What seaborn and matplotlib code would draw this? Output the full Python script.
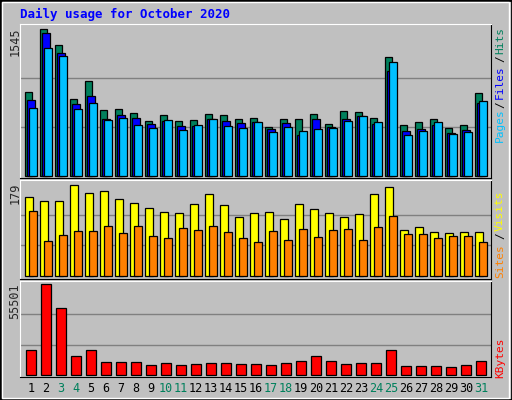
import numpy as np
import matplotlib
matplotlib.use("Agg")
import matplotlib.pyplot as plt
import seaborn as sns
from matplotlib.patches import Rectangle

days = list(range(1, 32))
hits = [883,1545,1377,809,998,694,704,662,578,641,578,589,652,641,599,610,515,599,599,652,547,683,673,610,1251,536,568,599,505,536,872]
files = [799,1503,1289,757,841,599,641,610,547,578,526,526,599,578,557,568,494,557,431,599,515,599,631,547,1104,473,494,536,452,483,767]
pages = [711,1342,1261,704,767,589,610,536,505,589,483,536,599,526,505,568,462,515,473,494,505,578,631,568,1198,431,473,568,441,462,788]
visits = [153,145,145,178,161,165,149,143,132,124,122,141,159,138,114,122,124,110,141,130,122,114,120,159,173,89,95,85,83,85,85]
sites = [126,69,79,87,87,97,83,97,77,73,93,89,97,85,73,66,87,71,91,75,89,91,71,95,116,81,81,73,77,77,67]
kbytes = [15395,55501,40715,11748,15395,7900,7900,7900,6077,7292,6077,6684,7292,7292,6684,6684,6077,7292,8508,11748,8508,6684,7292,7292,15395,5469,5469,5469,4861,6077,8508]
weekend = [3,4,10,11,17,18,24,25,31]

sns.set_style("white")
plt.rcParams['font.family'] = ['DejaVu Sans Mono']
BG = "#c0c0c0"
fig = plt.figure(figsize=(5.12, 4.0), dpi=100, facecolor=BG)
fig.patches.append(Rectangle((0, 0), 1, 1, transform=fig.transFigure, fill=False,
                             edgecolor="black", lw=2))
fig.patches.append(Rectangle((0.004, 0.006), 0.99, 0.99, transform=fig.transFigure, fill=False,
                             edgecolor="white", lw=1))

W, H = 512, 400
def rect(x0, y0, x1, y1):
    return [x0 / W, 1 - y1 / H, (x1 - x0) / W, (y1 - y0) / H]

x = np.arange(31)
ek = dict(edgecolor="black", linewidth=0.9)

def style(ax, ylim, grids, ymax, ypx):
    ax.set_facecolor(BG)
    ax.set_xlim(-0.73, 30.67)
    ax.set_ylim(*ylim)
    for g in grids:
        ax.axhline(g, color="#808080", lw=1, zorder=0)
    ax.set_xticks([]); ax.set_yticks([])
    for s in ax.spines.values():
        s.set_color("black")
    ax.spines["top"].set_color("white")
    ax.spines["left"].set_color("white")
    fig.text(15 / W, 1 - ypx / H, ymax, rotation=90, ha="center", va="top", fontsize=8.5)

ax1 = fig.add_axes(rect(20, 24, 491, 178))
style(ax1, (-21, 1597), [515, 1030], "1545", 27)
ax1.bar(x - 0.17, hits, width=0.47, color="#00805c", **ek)
ax1.bar(x, files, width=0.5, color="#0000ff", **ek)
ax1.bar(x + 0.13, pages, width=0.5, color="#00c0ff", **ek)

ax2 = fig.add_axes(rect(20, 180, 491, 279))
style(ax2, (-5.8, 186.8), [59.7, 119.3], "179", 183)
ax2.bar(x - 0.13, visits, width=0.53, color="#ffff00", **ek)
ax2.bar(x + 0.13, sites, width=0.53, color="#ff8000", **ek)

ax3 = fig.add_axes(rect(20, 281, 491, 377))
sns.barplot(x=x, y=kbytes, ax=ax3, native_scale=True, color="#ff0000", saturation=1,
            width=0.67, **ek)
style(ax3, (-1220, 57330), [18500, 37000], "55501", 283)

fig.text(20 / W, 1 - 14 / H, "Daily usage for October 2020", color="#0000ff",
         fontsize=9, fontweight="bold", ha="left", va="center")

for d in days:
    px = 20 + (d - 1 + 0.73) * (471 / 31.4)
    fig.text(px / W, 1 - 389 / H, str(d), ha="center", va="center", fontsize=8.5,
             color="#00805c" if d in weekend else "black")

def rlab(s, c, py):
    fig.text(500 / W, 1 - py / H, s, rotation=90, ha="center", va="center",
             fontsize=8, color=c)

rlab("Hits", "#00805c", 40); rlab("/", "black", 59); rlab("Files", "#0000ff", 82)
rlab("/", "black", 105); rlab("Pages", "#00c0ff", 125)
rlab("Visits", "#ffff00", 211); rlab("/", "black", 236); rlab("Sites", "#ff8000", 261)
rlab("KBytes", "#ff0000", 358)

fig.savefig("out.png", dpi=100, facecolor=BG)
